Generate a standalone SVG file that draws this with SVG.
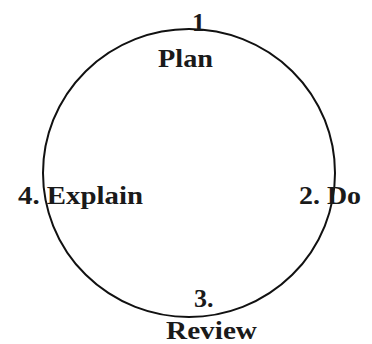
<svg xmlns="http://www.w3.org/2000/svg" width="372" height="344" viewBox="0 0 372 344">
<style>
text{font-family:"Liberation Serif","Times New Roman",serif;font-weight:bold;fill:#1a1a1a;font-size:26px}
.c{fill:none;stroke:#111;stroke-width:2}
</style>
<rect width="372" height="344" fill="#fff"/>
<g id="connectors">
<ellipse class="c" cx="189" cy="173" rx="146" ry="144"/>
</g>
<g id="step1">
<text x="192" y="31">1</text>
<text x="158" y="67" textLength="55" lengthAdjust="spacingAndGlyphs">Plan</text>
</g>
<g id="step2">
<text x="299" y="204" textLength="62" lengthAdjust="spacingAndGlyphs">2. Do</text>
</g>
<g id="step3">
<text x="194" y="307">3.</text>
<text x="166" y="339" textLength="91" lengthAdjust="spacingAndGlyphs">Review</text>
</g>
<g id="step4">
<text x="18" y="204" textLength="125" lengthAdjust="spacingAndGlyphs">4. Explain</text>
</g>
</svg>
